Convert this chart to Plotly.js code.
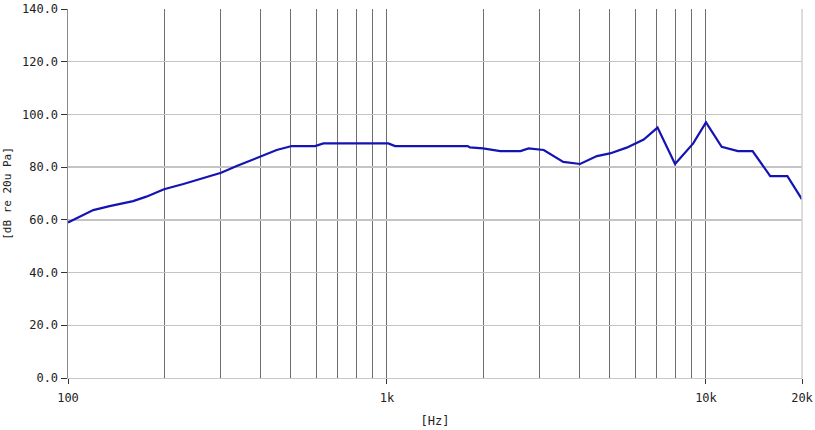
<!DOCTYPE html>
<html>
<head>
<meta charset="utf-8">
<script src="https://cdn.plot.ly/plotly-3.0.1.min.js"></script>
<style>html,body{margin:0;padding:0;background:#fff;}#chart{width:815px;height:430px;}</style>
</head>
<body>
<div id="chart"></div>
<script>
// Frequency response data
const freqHz = [100, 120, 135, 160, 176, 200, 230, 279, 302, 338, 400, 451, 503, 595, 632, 1010, 1060, 1790, 1820, 2000, 2265, 2620, 2780, 3100, 3570, 4030, 4550, 5000, 5640, 6380, 7050, 8000, 9120, 10000, 11200, 12600, 14000, 15900, 18000, 20000];
const levelDb = [59.0, 63.7, 65.2, 67.1, 68.8, 71.6, 73.6, 76.6, 77.9, 80.4, 84.0, 86.5, 88.0, 88.0, 89.0, 89.0, 88.0, 88.0, 87.5, 87.1, 86.1, 86.1, 87.1, 86.5, 82.0, 81.2, 84.2, 85.2, 87.4, 90.5, 95.0, 81.2, 89.0, 97.0, 87.7, 86.1, 86.1, 76.6, 76.6, 67.8];

// Axis grid / tick labels
const gridFreqs = [100, 200, 300, 400, 500, 600, 700, 800, 900, 1000, 2000, 3000, 4000, 5000, 6000, 7000, 8000, 9000, 10000];
const labelFreqs = [100, 1000, 10000, 20000];
const labelText = ['100', '1k', '10k', '20k'];
const yTicks = [0, 20, 40, 60, 80, 100, 120, 140];

const font = {family: 'DejaVu Sans Mono, monospace', size: 12, color: '#222'};

const gridText = gridFreqs.map(f => {
  const i = labelFreqs.indexOf(f);
  return i >= 0 ? labelText[i] : '';
});
const allVals = gridFreqs.concat([20000]);
const allText = gridText.concat(['20k']);

const trace = {
  x: freqHz, y: levelDb, type: 'scatter', mode: 'lines',
  line: {color: '#1414b4', width: 2.2},
  hoverinfo: 'x+y'
};

const layout = {
  width: 815, height: 430,
  margin: {l: 68, r: 13, t: 9, b: 52},
  paper_bgcolor: '#fff', plot_bgcolor: '#fff',
  showlegend: false,
  font: font,
  xaxis: {
    type: 'log', range: [2, Math.log10(20000)],
    tickvals: allVals, ticktext: allText,
    showgrid: true, gridcolor: '#6e6e6e', gridwidth: 1,
    ticks: '', zeroline: false, showline: false,
    ticklabelstandoff: 11,
    tickfont: font,
    title: {text: '[Hz]', font: font, standoff: 12}
  },
  xaxis2: {
    type: 'log', range: [2, Math.log10(20000)], overlaying: 'x',
    tickvals: labelFreqs, ticktext: labelText, showticklabels: false,
    ticks: 'outside', ticklen: 5, tickcolor: '#333', showgrid: false,
    showline: true, linecolor: '#c8c8c8', zeroline: false
  },
  yaxis: {
    range: [0, 140], tickvals: yTicks, tickformat: '.1f',
    showgrid: true, gridcolor: '#c4c4c4', gridwidth: 1.5,
    ticks: 'outside', ticklen: 6, tickcolor: '#333',
    showline: true, linecolor: '#8a8a8a', linewidth: 1.5,
    zeroline: false, tickfont: font,
    title: {text: '[dB re 20u Pa]', font: {family: font.family, size: 11, color: '#222'}, standoff: 8}
  },
  shapes: [{type: 'line', xref: 'paper', yref: 'paper', x0: 1, x1: 1, y0: 0, y1: 1, line: {color: '#d0d0d0', width: 1.5}}]
};

const dummy = {x: [100, 20000], y: [null, null], xaxis: 'x2', type: 'scatter', mode: 'lines', hoverinfo: 'skip'};

Plotly.newPlot('chart', [dummy, trace], layout, {displayModeBar: false, staticPlot: true});
</script>
</body>
</html>
